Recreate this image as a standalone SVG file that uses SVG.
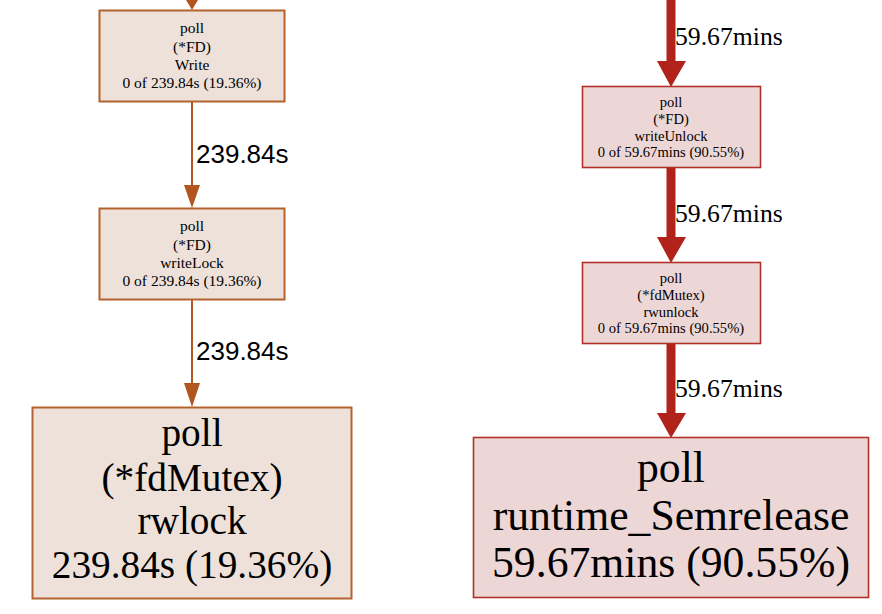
<svg xmlns="http://www.w3.org/2000/svg" width="882" height="614" viewBox="0 0 882 614">
<style>
.nl rect{fill:#ede1d9;stroke:#b4632e;stroke-width:2}
.nr rect{fill:#edd7d6;stroke:#b3302a;stroke-width:1.6}
text{fill:#000;text-anchor:middle;font-family:"Liberation Serif","Times New Roman",serif}
.el{stroke:#b2561f;stroke-width:2;fill:none}
.er{stroke:#b0221a;stroke-width:9;fill:none}
.al{fill:#b2561f}
.ar{fill:#b0221a}
.lbl{text-anchor:start;font-family:"Liberation Sans",Arial,sans-serif;font-size:26px}
.lbr{text-anchor:start;font-size:25.7px}
</style>
<rect width="882" height="614" fill="#fff"/>
<g id="connectors">
<path class="el" d="M192 0V2"/>
<polygon class="al" points="186,0 198,0 192,10"/>
<path class="el" d="M192 101V186"/>
<polygon class="al" points="184,185 200,185 192,208"/>
<text class="lbl" x="196" y="163">239.84s</text>
<path class="el" d="M192 299V384"/>
<polygon class="al" points="184,383 200,383 192,407"/>
<text class="lbl" x="196" y="360">239.84s</text>
<path class="er" d="M671 0V62"/>
<polygon class="ar" points="657,61 686,61 671,87"/>
<text class="lbr" x="675" y="45">59.67mins</text>
<path class="er" d="M671 167V238"/>
<polygon class="ar" points="657,237 686,237 671,263"/>
<text class="lbr" x="675" y="222">59.67mins</text>
<path class="er" d="M671 343V414"/>
<polygon class="ar" points="657,413 686,413 671,438"/>
<text class="lbr" x="675" y="397">59.67mins</text>
</g>
<g id="node-write" class="nl">
<rect x="99.5" y="10.5" width="185" height="91"/>
<text font-size="15.5" x="192" y="33">poll</text>
<text font-size="15.5" x="192" y="51.5">(*FD)</text>
<text font-size="15.5" x="192" y="69.5">Write</text>
<text font-size="15.5" x="192" y="88">0 of 239.84s (19.36%)</text>
</g>
<g id="node-writelock" class="nl">
<rect x="99.5" y="208.5" width="185" height="91"/>
<text font-size="15.5" x="192" y="231">poll</text>
<text font-size="15.5" x="192" y="249.5">(*FD)</text>
<text font-size="15.5" x="192" y="267.5">writeLock</text>
<text font-size="15.5" x="192" y="286">0 of 239.84s (19.36%)</text>
</g>
<g id="node-rwlock" class="nl">
<rect x="32.5" y="407.5" width="319" height="191"/>
<text font-size="39.3" x="192" y="446">poll</text>
<text font-size="39.3" x="192" y="491">(*fdMutex)</text>
<text font-size="39.3" x="192" y="534">rwlock</text>
<text font-size="39.3" x="192" y="578">239.84s (19.36%)</text>
</g>
<g id="node-writeunlock" class="nr">
<rect x="582.5" y="86.5" width="178" height="81"/>
<text font-size="14.6" x="671" y="106.5">poll</text>
<text font-size="14.6" x="671" y="124">(*FD)</text>
<text font-size="14.6" x="671" y="140.5">writeUnlock</text>
<text font-size="14.6" x="671" y="157">0 of 59.67mins (90.55%)</text>
</g>
<g id="node-rwunlock" class="nr">
<rect x="582.5" y="262.5" width="178" height="81"/>
<text font-size="14.6" x="671" y="282.5">poll</text>
<text font-size="14.6" x="671" y="300">(*fdMutex)</text>
<text font-size="14.6" x="671" y="316.5">rwunlock</text>
<text font-size="14.6" x="671" y="333">0 of 59.67mins (90.55%)</text>
</g>
<g id="node-semrelease" class="nr">
<rect x="473.5" y="437.5" width="395" height="160"/>
<text font-size="43.7" x="671" y="482">poll</text>
<text font-size="43.7" x="671" y="530">runtime_Semrelease</text>
<text font-size="43.7" x="671" y="577">59.67mins (90.55%)</text>
</g>
</svg>
